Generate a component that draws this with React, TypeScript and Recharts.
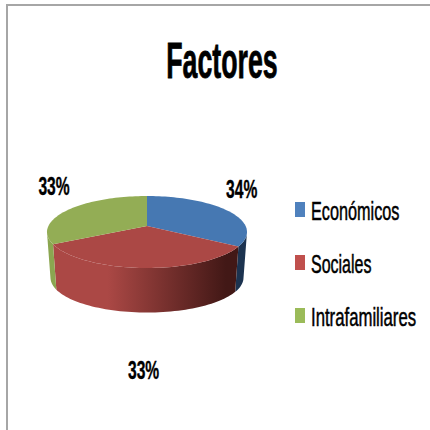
import { PieChart, Pie, Legend } from "recharts";

const categories = ["Económicos", "Sociales", "Intrafamiliares"];
const shares = [34, 33, 33];
const topColors = ["#4678b2", "#ab4845", "#93ad55"];
const swatchColors = ["#4f81bd", "#c0504d", "#9bbb59"];
const sideFrom = ["#2f5580", "#ab4845", "#8ba650"];
const sideTo = ["#1c3350", "#421816", "#7d9648"];

const rows = categories.map((name, i) => ({ name, value: shares[i], idx: i }));

const FONT = "'Liberation Sans Narrow', 'Liberation Sans', sans-serif";
const DEPTH = 46;
const TILT = 35 / 98.6;
const PERSPECTIVE = 1 / 6;
const APEX_UP = 6;

// project a point of the flat pie onto the tilted disc
function project(cx: number, cy: number, r: number, deg: number, shrink = 1, drop = 0) {
  const a = (deg * Math.PI) / 180;
  const x = Math.cos(a);
  const y = -Math.sin(a);
  const w = 1 - PERSPECTIVE * y;
  return {
    x: cx + (r * shrink * x) / w,
    y: cy - APEX_UP + drop + (r * TILT * shrink * y) / w,
  };
}

function Slice3D(props: any) {
  const { cx, cy, outerRadius: r, startAngle, endAngle, idx } = props;
  const steps = 60;
  const rim: number[] = [];
  for (let s = 0; s <= steps; s++) rim.push(startAngle + ((endAngle - startAngle) * s) / steps);

  const apex = project(cx, cy, 0, 0);
  const top =
    `M${apex.x},${apex.y} ` +
    rim.map((d) => { const p = project(cx, cy, r, d); return `L${p.x},${p.y}`; }).join(" ") + " Z";

  // side wall, only the part of the rim that faces the viewer
  const front = rim.filter((d) => project(cx, cy, r, d).y >= cy);
  const upper = front.map((d) => project(cx, cy, r, d));
  const lower = front.map((d) => project(cx, cy, r, d, 0.965, DEPTH)).reverse();
  const side = [...upper, ...lower].map((p, i) => `${i ? "L" : "M"}${p.x},${p.y}`).join(" ") + " Z";
  const gid = `side-${idx}`;

  return (
    <g>
      <defs>
        <linearGradient id={gid} gradientUnits="userSpaceOnUse" x1={cx - r} x2={cx + r} y1={0} y2={0}>
          <stop offset="0%" stopColor={sideFrom[idx]} />
          <stop offset="30%" stopColor={sideFrom[idx]} />
          <stop offset="90%" stopColor={sideTo[idx]} />
          <stop offset="100%" stopColor={sideTo[idx]} />
        </linearGradient>
      </defs>
      {front.length > 1 && <path d={side} fill={`url(#${gid})`} />}
      <path d={top} fill={topColors[idx]} />
    </g>
  );
}

function renderLabel(props: any) {
  const { cx, cy, midAngle, percent } = props;
  const a = (midAngle * Math.PI) / 180;
  const up = Math.sin(a) > 0;
  const x = cx + 108 * Math.cos(a);
  const y = cy - (up ? 90 : 138) * Math.sin(a);
  return (
    <text transform={`translate(${x},${y + 9}) scale(0.6,1)`} textAnchor="middle" fontFamily={FONT}
      fontSize={26} fontWeight={700} fill="#000" stroke="#000" strokeWidth={0.4}>
      {`${Math.round(percent * 100)}%`}
    </text>
  );
}

const legendScales = [0.65, 0.64, 0.67];

function LegendBox() {
  return (
    <svg width={135} height={145} style={{ display: "block" }}>
      {categories.map((name, i) => (
        <g key={name} transform={`translate(0,${10 + i * 53})`}>
          <rect x={0} y={0} width={10} height={15} fill={swatchColors[i]} />
          <text transform={`translate(16,18) scale(${legendScales[i]},1)`} fontFamily={FONT} fontSize={25}
            fill="#000" stroke="#000" strokeWidth={0.5}>
            {name}
          </text>
        </g>
      ))}
    </svg>
  );
}

export default function App() {
  return (
    <div style={{ position: "absolute", left: 0, top: 0, width: 430, height: 430, background: "#fff" }}>
      <div style={{ position: "absolute", left: 6, top: 4, width: 424, height: 426, boxSizing: "border-box",
        borderLeft: "2px solid #a6a6a6", borderTop: "2px solid #a6a6a6" }} />
      <PieChart width={430} height={430} margin={{ top: 0, right: 0, bottom: 0, left: 0 }}
        style={{ position: "absolute", left: 0, top: 0 }}>
        <text transform="translate(222,78) scale(0.535,1)" textAnchor="middle" fontFamily={FONT} fontSize={50}
          fontWeight={700} fill="#000" stroke="#000" strokeWidth={0.8}>
          Factores
        </text>
        <Pie data={rows} dataKey="value" nameKey="name" cx={147} cy={232} outerRadius={98.6}
          startAngle={90} endAngle={-270} stroke="none" isAnimationActive={false}
          shape={Slice3D} label={renderLabel} labelLine={false} />
        <Legend content={<LegendBox />} layout="horizontal" align="right" verticalAlign="bottom"
          wrapperStyle={{ left: 295, top: 192, bottom: "auto", right: "auto", width: 135, height: 145 }} />
      </PieChart>
    </div>
  );
}
